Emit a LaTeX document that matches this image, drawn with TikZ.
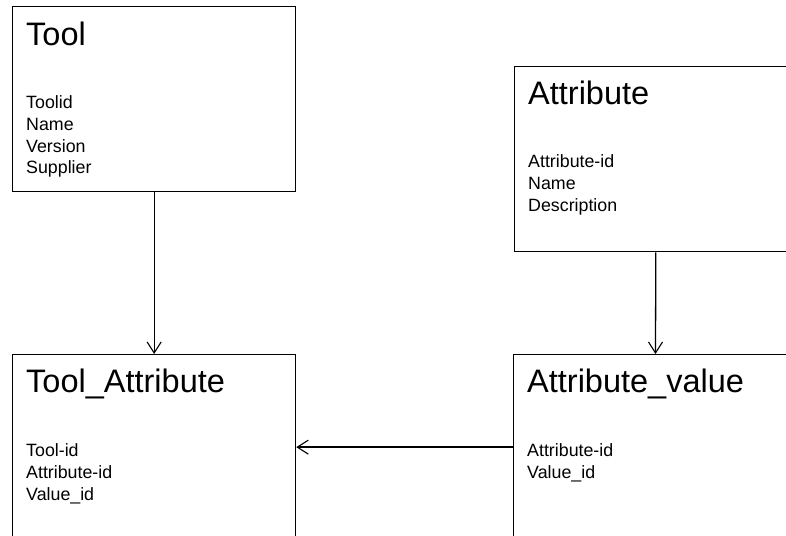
\documentclass[tikz,border=0pt]{standalone}
\usepackage{fontspec}
\setmainfont{Liberation Sans}
\usetikzlibrary{arrows.meta}

\tikzset{
  entity/.style={draw, line width=1.3pt, minimum width=283pt, minimum height=185pt,
    anchor=north west, inner sep=0pt},
  entname/.style={anchor=base west, inner sep=0pt, font=\fontsize{32.5}{38}\selectfont},
  entfield/.style={anchor=base west, inner sep=0pt, font=\fontsize{17.8}{21}\selectfont},
  link/.style={-{Straight Barb[length=11pt,width=14pt,line width=1.1pt]}, line width=1.3pt}
}

\begin{document}
\begin{tikzpicture}[x=1pt,y=1pt]
\useasboundingbox (0,0) rectangle (786,535);
\clip (0,0) rectangle (786,535);

% the four tables
\node[entity] (tool) at (12,529) {};
\node[entity] (attr) at (514,469) {};
\node[entity] (toolattr) at (12,181) {};
\node[entity] (attrval) at (513,181) {};

% names
\node[entname] at ([xshift=14pt,yshift=-40pt]tool.north west) {Tool};
\node[entname] at ([xshift=14pt,yshift=-39pt]attr.north west) {Attribute};
\node[entname] at ([xshift=14pt,yshift=-39pt]toolattr.north west) {Tool\_Attribute};
\node[entname] at ([xshift=14pt,yshift=-39pt]attrval.north west) {Attribute\_value};

% fields
\foreach \f [count=\i from 0] in {Toolid,Name,Version,Supplier}
  \node[entfield] at ([xshift=14pt,yshift={-103pt-\i*21.6pt}]tool.north west) {\f};
\foreach \f [count=\i from 0] in {Attribute-id,Name,Description}
  \node[entfield] at ([xshift=14pt,yshift={-102pt-\i*22pt}]attr.north west) {\f};
\foreach \f [count=\i from 0] in {Tool-id,Attribute-id,Value\_id}
  \node[entfield] at ([xshift=14pt,yshift={-103pt-\i*21.8pt}]toolattr.north west) {\f};
\foreach \f [count=\i from 0] in {Attribute-id,Value\_id}
  \node[entfield] at ([xshift=14pt,yshift={-103pt-\i*21.8pt}]attrval.north west) {\f};

% links
\draw[link] (tool) -- (toolattr);
\draw[link] (attr) -- (attrval);
\draw[link] (attrval) -- (toolattr);
\end{tikzpicture}
\end{document}
